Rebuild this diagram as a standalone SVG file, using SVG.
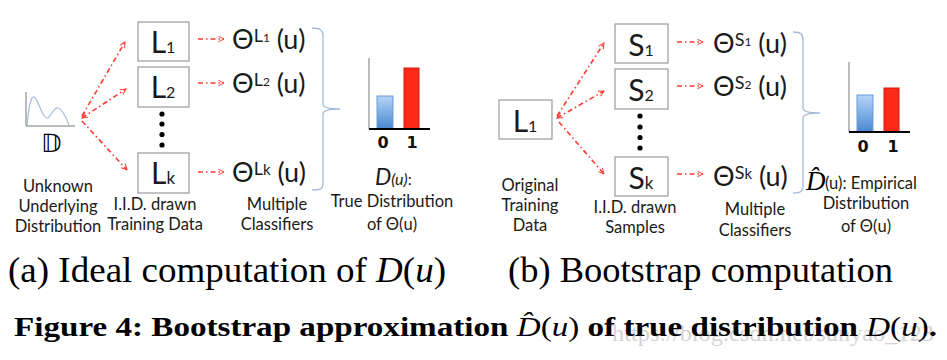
<svg xmlns="http://www.w3.org/2000/svg" width="947" height="360" viewBox="0 0 947 360">
<defs>
<marker id="ah" viewBox="0 0 10 10" refX="9" refY="5" markerWidth="7" markerHeight="7" orient="auto-start-reverse" markerUnits="userSpaceOnUse">
<path d="M1,1 L9,5 L1,9" fill="none" stroke="#ff3b30" stroke-width="1.4"/>
</marker>
<linearGradient id="blue" x1="0" y1="0" x2="0" y2="1">
<stop offset="0" stop-color="#b4d4f7"/>
<stop offset="1" stop-color="#4a88d0"/>
</linearGradient>
</defs>
<style>
.box{fill:#fff;stroke:#9a9a9a;stroke-width:1.2}
.lbl{font-family:Lato,"Open Sans",sans-serif;fill:#1a1a1a}
.big{font-size:30px}
.sm{font-size:16.5px}
.arr{fill:none;stroke:#ff3b30;stroke-width:1.6;stroke-dasharray:5 3 1.5 3;marker-end:url(#ah)}
.brace{fill:none;stroke:#a7bbd6;stroke-width:1.3}
.dot{fill:#000}
.cap{font-family:"Liberation Serif","Times New Roman",serif;fill:#000}
.axis{stroke:#555;stroke-width:0.8}
.base{stroke:#000;stroke-width:2}
.bblue{fill:url(#blue);stroke:#6a9bd6;stroke-width:1}
.bred{fill:#ff2a1a;stroke:#d01a10;stroke-width:1}
.num{font-family:"DejaVu Sans",sans-serif;font-weight:bold;font-size:16px;fill:#111}
</style>
<rect width="947" height="360" fill="#fff"/>

<!-- Panel (a) -->
<g id="dist-icon">
<line class="axis" x1="26" y1="92" x2="26" y2="126"/>
<line class="axis" x1="26" y1="126" x2="75" y2="126"/>
<path d="M27,125 C29,105 31,96 34,97 C39,99 41,117 47,118 C51,118 53,107 58,108 C63,109 67,120 69,125" fill="none" stroke="#9fbbe0" stroke-width="1.2"/>
<text class="cap" x="51" y="152" font-size="25" text-anchor="middle" font-family="DejaVu Sans, sans-serif">𝔻</text>
<text class="lbl sm" x="58" y="192" text-anchor="middle">Unknown</text>
<text class="lbl sm" x="58" y="212" text-anchor="middle">Underlying</text>
<text class="lbl sm" x="58" y="232" text-anchor="middle">Distribution</text>
</g>

<g id="L1a"><rect class="box" x="138" y="22" width="51" height="39"/><text class="lbl big" x="163" y="53" text-anchor="middle">L<tspan font-size="16">1</tspan></text></g>
<g id="L2a"><rect class="box" x="138" y="67" width="51" height="40"/><text class="lbl big" x="163" y="98" text-anchor="middle">L<tspan font-size="16">2</tspan></text></g>
<g id="dotsa"><circle class="dot" cx="162" cy="114" r="2.6"/><circle class="dot" cx="162" cy="124" r="2.6"/><circle class="dot" cx="162" cy="134.5" r="2.6"/><circle class="dot" cx="162" cy="145" r="2.6"/></g>
<g id="Lka"><rect class="box" x="138" y="153" width="51" height="40"/><text class="lbl big" x="163" y="184" text-anchor="middle">L<tspan font-size="17">k</tspan></text></g>
<g id="lbl-train-a">
<text class="lbl sm" x="155" y="210" text-anchor="middle">I.I.D. drawn</text>
<text class="lbl sm" x="155" y="230" text-anchor="middle">Training Data</text>
</g>

<g id="th1a"><text class="lbl" x="232" y="49" font-size="27">Θ<tspan font-size="18" dy="-7">L</tspan><tspan font-size="12">1</tspan><tspan dy="7"> (u)</tspan></text></g>
<g id="th2a"><text class="lbl" x="232" y="93" font-size="27">Θ<tspan font-size="18" dy="-7">L</tspan><tspan font-size="12">2</tspan><tspan dy="7"> (u)</tspan></text></g>
<g id="thka"><text class="lbl" x="232" y="182" font-size="27">Θ<tspan font-size="18" dy="-7">L</tspan><tspan font-size="15">k</tspan><tspan dy="7"> (u)</tspan></text></g>
<g id="lbl-cls-a">
<text class="lbl sm" x="277" y="210" text-anchor="middle">Multiple</text>
<text class="lbl sm" x="277" y="230" text-anchor="middle">Classifiers</text>
</g>

<g id="chart-a">
<line class="axis" x1="369" y1="58" x2="369" y2="129"/>
<rect class="bblue" x="377" y="96" width="16" height="33"/>
<rect class="bred" x="404" y="68" width="15" height="61"/>
<line class="base" x1="369" y1="129" x2="430" y2="129"/>
<text class="num" x="383" y="148" text-anchor="middle">0</text>
<text class="num" x="412" y="148" text-anchor="middle">1</text>
<text class="lbl" x="375" y="185" font-size="23" font-style="italic">D<tspan font-size="16">(u)</tspan><tspan font-size="16" font-style="normal">:</tspan></text>
<text class="lbl sm" x="392" y="207" text-anchor="middle">True Distribution</text>
<text class="lbl sm" x="392" y="230" text-anchor="middle">of Θ(u)</text>
</g>

<!-- Panel (b) -->
<g id="L1b"><rect class="box" x="499" y="100" width="53" height="39"/><text class="lbl big" x="525" y="132" text-anchor="middle">L<tspan font-size="16">1</tspan></text>
<text class="lbl sm" x="530" y="191" text-anchor="middle">Original</text>
<text class="lbl sm" x="530" y="211" text-anchor="middle">Training</text>
<text class="lbl sm" x="530" y="231" text-anchor="middle">Data</text></g>

<g id="S1b"><rect class="box" x="615" y="24" width="53" height="39"/><text class="lbl big" x="641" y="56" text-anchor="middle">S<tspan font-size="16">1</tspan></text></g>
<g id="S2b"><rect class="box" x="615" y="69" width="53" height="40"/><text class="lbl big" x="641" y="101" text-anchor="middle">S<tspan font-size="16">2</tspan></text></g>
<g id="dotsb"><circle class="dot" cx="640" cy="116" r="2.6"/><circle class="dot" cx="640" cy="127" r="2.6"/><circle class="dot" cx="640" cy="137.5" r="2.6"/><circle class="dot" cx="640" cy="148" r="2.6"/></g>
<g id="Skb"><rect class="box" x="615" y="157" width="53" height="39"/><text class="lbl big" x="641" y="189" text-anchor="middle">S<tspan font-size="17">k</tspan></text></g>
<g id="lbl-train-b">
<text class="lbl sm" x="635" y="213" text-anchor="middle">I.I.D. drawn</text>
<text class="lbl sm" x="635" y="233" text-anchor="middle">Samples</text>
</g>

<g id="th1b"><text class="lbl" x="713" y="53" font-size="27">Θ<tspan font-size="18" dy="-7">S</tspan><tspan font-size="12">1</tspan><tspan dy="7"> (u)</tspan></text></g>
<g id="th2b"><text class="lbl" x="713" y="96" font-size="27">Θ<tspan font-size="18" dy="-7">S</tspan><tspan font-size="12">2</tspan><tspan dy="7"> (u)</tspan></text></g>
<g id="thkb"><text class="lbl" x="713" y="186" font-size="27">Θ<tspan font-size="18" dy="-7">S</tspan><tspan font-size="15">k</tspan><tspan dy="7"> (u)</tspan></text></g>
<g id="lbl-cls-b">
<text class="lbl sm" x="755" y="215" text-anchor="middle">Multiple</text>
<text class="lbl sm" x="755" y="236" text-anchor="middle">Classifiers</text>
</g>

<g id="chart-b">
<line class="axis" x1="849" y1="62" x2="849" y2="132"/>
<rect class="bblue" x="857" y="95" width="16" height="37"/>
<rect class="bred" x="884" y="88" width="15" height="44"/>
<line class="base" x1="849" y1="132" x2="910" y2="132"/>
<text class="num" x="863" y="152" text-anchor="middle">0</text>
<text class="num" x="893" y="152" text-anchor="middle">1</text>
<text class="cap" x="806" y="190" font-size="27" font-style="italic">D̂</text>
<text class="lbl sm" x="825" y="189">(u): Empirical</text>
<text class="lbl sm" x="866" y="209" text-anchor="middle">Distribution</text>
<text class="lbl sm" x="866" y="232" text-anchor="middle">of Θ(u)</text>
</g>

<g id="connectors">
<path class="arr" d="M82,116 L125,42"/>
<path class="arr" d="M82,118 L126,89" marker-start="url(#ah)"/>
<path class="arr" d="M82,121 L127,170"/>
<path class="arr" d="M198,39 L224,39"/>
<path class="arr" d="M198,83 L224,83"/>
<path class="arr" d="M198,172 L224,172"/>
<path class="arr" d="M557,116 L604,43"/>
<path class="arr" d="M557,118 L604,91" marker-start="url(#ah)"/>
<path class="arr" d="M559,122 L604,174"/>
<path class="arr" d="M677,42 L703,42"/>
<path class="arr" d="M677,86 L703,86"/>
<path class="arr" d="M677,174 L703,174"/>
<path class="brace" d="M312,28 C320,28 323,30 323,36 L323,104 C323,108 330,109 340,109 C330,109 323,110 323,114 L323,184 C323,189 320,190 312,190"/>
<path class="brace" d="M793,32 C801,32 803,34 803,40 L803,108 C803,112 810,113 820,113 C810,113 803,114 803,118 L803,187 C803,191 801,193 793,193"/>
</g>

<g id="captions">
<text x="612" y="341" font-family="Liberation Serif, serif" font-size="24" fill="#d4d4d4" textLength="322" lengthAdjust="spacingAndGlyphs">https://blog.csdn.net/sunyao_123</text>
<text class="cap" x="8" y="282" font-size="35" textLength="438" lengthAdjust="spacingAndGlyphs">(a) Ideal computation of <tspan font-style="italic">D</tspan>(<tspan font-style="italic">u</tspan>)</text>
<text class="cap" x="508" y="282" font-size="35" textLength="385" lengthAdjust="spacingAndGlyphs">(b) Bootstrap computation</text>
<text class="cap" x="14" y="336" font-size="28" font-weight="bold" textLength="923" lengthAdjust="spacingAndGlyphs">Figure 4: Bootstrap approximation <tspan font-weight="normal" font-style="italic">D̂</tspan><tspan font-weight="normal">(<tspan font-style="italic">u</tspan>)</tspan> of true distribution <tspan font-weight="normal" font-style="italic">D</tspan><tspan font-weight="normal">(<tspan font-style="italic">u</tspan>)</tspan>.</text>
</g>
</svg>
